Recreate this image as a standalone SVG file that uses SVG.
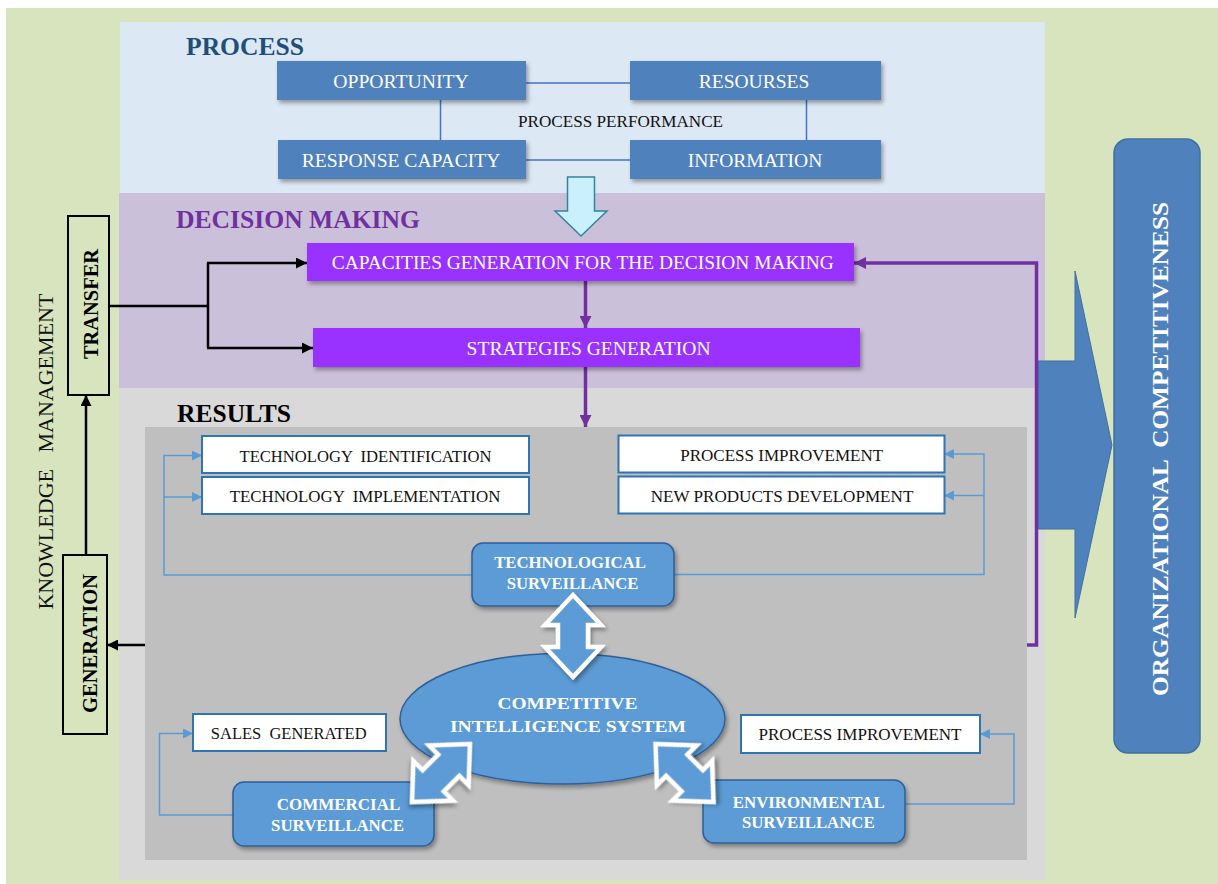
<svg xmlns="http://www.w3.org/2000/svg" width="1218" height="884" viewBox="0 0 1218 884">
<defs>
<style>
.serif{font-family:"Liberation Serif","Times New Roman",serif}
.pre{white-space:pre}
.pbox{fill:#4f81bd;filter:url(#sh)}
.ptxt{font-family:"Liberation Serif","Times New Roman",serif;font-size:19.5px;fill:#fff;text-anchor:middle}
.vbox{fill:#9933ff;filter:url(#sh)}
.vtxt{font-family:"Liberation Serif","Times New Roman",serif;font-size:19px;fill:#fff;text-anchor:middle}
.wbox{fill:#fff;stroke:#2e75b6;stroke-width:2}
.wtxt{font-family:"Liberation Serif","Times New Roman",serif;font-size:17px;fill:#111;text-anchor:middle}
.bnode{fill:#5b9bd5;stroke:#2f5f98;stroke-width:1.5;filter:url(#sh)}
.btxt{font-family:"Liberation Serif","Times New Roman",serif;font-weight:bold;font-size:16.7px;fill:#fff;text-anchor:middle}
.title{font-family:"Liberation Serif","Times New Roman",serif;font-weight:bold;font-size:25.5px}
.dbl{fill:#5b9bd5;stroke:#fff;stroke-width:4.5;stroke-linejoin:miter;filter:url(#sh)}
.kbox{fill:#d7e4bd;stroke:#000;stroke-width:2}
.ktxt{font-family:"Liberation Serif","Times New Roman",serif;font-weight:bold;font-size:20px;fill:#000;text-anchor:middle}
.blk{fill:none;stroke:#000;stroke-width:2.5}
.pur{fill:none;stroke:#7030a0;stroke-width:3.5}
.blu{fill:none;stroke:#5b9bd5;stroke-width:1.5}
.pline{fill:none;stroke:#4472c4;stroke-width:1.5}
</style>
<filter id="sh" x="-20%" y="-20%" width="140%" height="150%">
<feDropShadow dx="2" dy="3" stdDeviation="2" flood-color="#000" flood-opacity="0.35"/>
</filter>
<marker id="aBlk" viewBox="0 0 10 10" refX="10" refY="5" markerUnits="userSpaceOnUse" markerWidth="11" markerHeight="11" orient="auto"><path d="M0,0 L10,5 L0,10 Z" fill="#000"/></marker>
<marker id="aPur" viewBox="0 0 10 10" refX="10" refY="5" markerUnits="userSpaceOnUse" markerWidth="13" markerHeight="12" orient="auto"><path d="M0,0 L10,5 L0,10 Z" fill="#7030a0"/></marker>
<marker id="aBlu" viewBox="0 0 10 10" refX="10" refY="5" markerUnits="userSpaceOnUse" markerWidth="11" markerHeight="10" orient="auto"><path d="M0,0 L10,5 L0,10 Z" fill="#5b9bd5"/></marker>
<path id="dblArrow" d="M0,-41 L28,-11 L15,-11 L15,11 L28,11 L0,41 L-28,11 L-15,11 L-15,-11 L-28,-11 Z"/>
</defs>

<!-- backgrounds -->
<rect x="0" y="0" width="1218" height="884" fill="#ffffff"/>
<rect x="6" y="8" width="1212" height="876" fill="#d7e4bd"/>
<rect x="120" y="22" width="925" height="171" fill="#dce8f4"/>
<rect x="119" y="193" width="926" height="195" fill="#cbc0da"/>
<rect x="119" y="388" width="926" height="492" fill="#d9d9d9"/>
<rect x="145" y="427" width="882" height="433" fill="#bfbfbf"/>

<text class="title" x="186" y="55" fill="#1f4e79" textLength="118" lengthAdjust="spacingAndGlyphs">PROCESS</text>
<text class="title" x="176" y="228" fill="#7030a0" textLength="244" lengthAdjust="spacingAndGlyphs">DECISION MAKING</text>
<text class="title" x="177" y="421.5" fill="#000" textLength="114" lengthAdjust="spacingAndGlyphs">RESULTS</text>

<!-- big arrow to organizational competitiveness -->
<g id="bigArrow">
<path d="M1038,361 H1075 V271 L1112,445 L1075,618 V529 H1038 Z" fill="#4f81bd" stroke="#41719c" stroke-width="1"/>
</g>

<!-- connectors -->
<g id="connectors">
<path class="pline" d="M526,83 H630"/>
<path class="pline" d="M526,160 H630"/>
<path class="pline" d="M440.5,100 V140"/>
<path class="pline" d="M806.5,100 V140"/>
<text class="serif" x="620.5" y="127.3" font-size="17" fill="#111" text-anchor="middle" textLength="205" lengthAdjust="spacingAndGlyphs">PROCESS PERFORMANCE</text>

<path d="M567.5,177 H594.5 V211 H607 L581,236 L555,211 H567.5 Z" fill="#c9f0fc" stroke="#31859c" stroke-width="1.5"/>

<path class="blk" d="M109,306 H208"/>
<path class="blk" d="M208,263 V348"/>
<path class="blk" d="M207,263 H307" marker-end="url(#aBlk)"/>
<path class="blk" d="M207,348 H313" marker-end="url(#aBlk)"/>
<path class="blk" d="M86,555 V395" marker-end="url(#aBlk)"/>
<path class="blk" d="M145,645 H107" marker-end="url(#aBlk)"/>

<path class="pur" d="M585.5,281 V328" marker-end="url(#aPur)"/>
<path class="pur" d="M585.5,367 V427" marker-end="url(#aPur)"/>
<path class="pur" d="M1027,645 H1036.5 V263 H854" marker-end="url(#aPur)"/>

<path class="blu" d="M472,575 H164 V455.5 H202" marker-end="url(#aBlu)"/>
<path class="blu" d="M164,497 H202" marker-end="url(#aBlu)"/>
<path class="blu" d="M674,574.5 H984 V454 H944" marker-end="url(#aBlu)"/>
<path class="blu" d="M984,495.5 H944" marker-end="url(#aBlu)"/>
<path class="blu" d="M233,815 H159.5 V733.5 H193" marker-end="url(#aBlu)"/>
<path class="blu" d="M905,804 H1014 V734 H980" marker-end="url(#aBlu)"/>
</g>

<!-- knowledge management -->
<text class="serif pre" xml:space="preserve" transform="translate(53,451.6) rotate(-90)" font-size="22" fill="#111" text-anchor="middle" textLength="316" lengthAdjust="spacingAndGlyphs">KNOWLEDGE   MANAGEMENT</text>
<g id="transfer">
<rect class="kbox" x="68" y="216" width="41" height="179"/>
<text class="ktxt" transform="translate(98,304) rotate(-90)" textLength="110" lengthAdjust="spacingAndGlyphs">TRANSFER</text>
</g>
<g id="generation">
<rect class="kbox" x="63" y="555" width="44" height="179"/>
<text class="ktxt" transform="translate(97,643.5) rotate(-90)" textLength="139" lengthAdjust="spacingAndGlyphs">GENERATION</text>
</g>

<!-- process nodes -->
<g id="opportunity">
<rect class="pbox" x="277" y="61" width="249" height="39"/>
<text class="ptxt" x="401" y="87.8" textLength="135.5" lengthAdjust="spacingAndGlyphs">OPPORTUNITY</text>
</g>
<g id="resourses">
<rect class="pbox" x="630" y="61" width="251" height="39"/>
<text class="ptxt" x="754" y="87.5" textLength="110.5" lengthAdjust="spacingAndGlyphs">RESOURSES</text>
</g>
<g id="response">
<rect class="pbox" x="278" y="140" width="248" height="39"/>
<text class="ptxt" x="401" y="166.7" textLength="198.5" lengthAdjust="spacingAndGlyphs">RESPONSE CAPACITY</text>
</g>
<g id="information">
<rect class="pbox" x="630" y="140" width="251" height="39"/>
<text class="ptxt" x="755" y="166.7" textLength="134.5" lengthAdjust="spacingAndGlyphs">INFORMATION</text>
</g>

<!-- decision nodes -->
<g id="capacities">
<rect class="vbox" x="307" y="243" width="547" height="38"/>
<text class="vtxt" x="582.8" y="269" textLength="502" lengthAdjust="spacingAndGlyphs">CAPACITIES GENERATION FOR THE DECISION MAKING</text>
</g>
<g id="strategies">
<rect class="vbox" x="313" y="328" width="547" height="39"/>
<text class="vtxt" x="588.6" y="354.8" textLength="244" lengthAdjust="spacingAndGlyphs">STRATEGIES GENERATION</text>
</g>

<!-- results nodes -->
<g id="techIdent">
<rect class="wbox" x="202" y="436" width="327" height="37"/>
<text class="wtxt pre" xml:space="preserve" x="365.5" y="461.5" textLength="252" lengthAdjust="spacingAndGlyphs">TECHNOLOGY  IDENTIFICATION</text>
</g>
<g id="techImpl">
<rect class="wbox" x="202" y="477" width="327" height="37"/>
<text class="wtxt pre" xml:space="preserve" x="365" y="502.3" textLength="270.7" lengthAdjust="spacingAndGlyphs">TECHNOLOGY  IMPLEMENTATION</text>
</g>
<g id="procImpr1">
<rect class="wbox" x="618.5" y="435.5" width="326" height="37"/>
<text class="wtxt" x="781.7" y="461" textLength="203" lengthAdjust="spacingAndGlyphs">PROCESS IMPROVEMENT</text>
</g>
<g id="newProducts">
<rect class="wbox" x="618.5" y="476.5" width="326" height="37"/>
<text class="wtxt" x="782" y="501.5" textLength="262.7" lengthAdjust="spacingAndGlyphs">NEW PRODUCTS DEVELOPMENT</text>
</g>
<g id="salesGenerated">
<rect class="wbox" x="193" y="714" width="193" height="37"/>
<text class="wtxt pre" xml:space="preserve" x="288.7" y="739" textLength="155.7" lengthAdjust="spacingAndGlyphs">SALES  GENERATED</text>
</g>
<g id="procImpr2">
<rect class="wbox" x="741" y="715" width="239" height="38"/>
<text class="wtxt" x="860" y="740.3" textLength="203" lengthAdjust="spacingAndGlyphs">PROCESS IMPROVEMENT</text>
</g>

<g id="techSurv">
<rect class="bnode" x="472" y="543" width="202" height="63" rx="11"/>
<text class="btxt" x="570" y="568" textLength="151.7" lengthAdjust="spacingAndGlyphs">TECHNOLOGICAL</text>
<text class="btxt" x="572.5" y="588.5" textLength="131.7" lengthAdjust="spacingAndGlyphs">SURVEILLANCE</text>
</g>
<g id="cis">
<ellipse class="bnode" cx="562.5" cy="718.7" rx="162.5" ry="65.3"/>
<text class="btxt" x="567.5" y="709" font-size="19.5" textLength="140" lengthAdjust="spacingAndGlyphs">COMPETITIVE</text>
<text class="btxt" x="568" y="731.7" font-size="19.5" textLength="236" lengthAdjust="spacingAndGlyphs">INTELLIGENCE SYSTEM</text>
</g>
<g id="commercialSurv">
<rect class="bnode" x="233" y="782" width="201" height="64" rx="11"/>
<text class="btxt" x="338.5" y="810" textLength="123.4" lengthAdjust="spacingAndGlyphs">COMMERCIAL</text>
<text class="btxt" x="337.6" y="830.7" textLength="133" lengthAdjust="spacingAndGlyphs">SURVEILLANCE</text>
</g>
<g id="environmentalSurv">
<rect class="bnode" x="703" y="780" width="202" height="63" rx="11"/>
<text class="btxt" x="808.7" y="807.7" textLength="151.8" lengthAdjust="spacingAndGlyphs">ENVIRONMENTAL</text>
<text class="btxt" x="808.3" y="828.3" textLength="132.8" lengthAdjust="spacingAndGlyphs">SURVEILLANCE</text>
</g>

<!-- white-outlined double arrows, drawn above the nodes they overlap -->
<g id="dblArrows">
<use href="#dblArrow" class="dbl" transform="translate(573,636)"/>
<use href="#dblArrow" class="dbl" transform="translate(441,773) rotate(45)"/>
<use href="#dblArrow" class="dbl" transform="translate(684.5,773) rotate(-45)"/>
</g>

<g id="orgCompetitiveness">
<rect x="1114" y="139" width="86" height="614" rx="14" fill="#4f81bd" stroke="#41719c" stroke-width="1.5"/>
<text class="pre" xml:space="preserve" transform="translate(1168,449) rotate(-90)" font-family="Liberation Serif, serif" font-weight="bold" font-size="24" fill="#fff" text-anchor="middle" textLength="494" lengthAdjust="spacingAndGlyphs">ORGANIZATIONAL  COMPETITIVENESS</text>
</g>
</svg>
